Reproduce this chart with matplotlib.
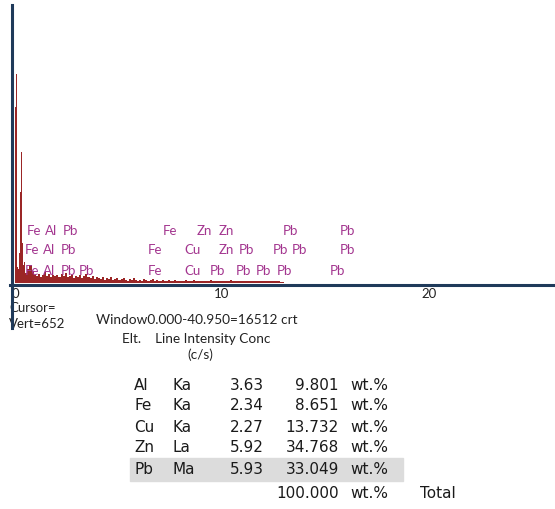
import matplotlib
matplotlib.use("Agg")
import matplotlib.pyplot as plt
from matplotlib.lines import Line2D
from matplotlib.patches import Rectangle
import numpy as np

W, H = 555, 509
KEV_PX = 20.7      # pixels per keV on the energy axis
X0_PX = 15.0       # pixel column of 0 keV
BASE_PX = 283.0    # pixel row of the spectrum baseline
TOP_PX = 5.0
VERT = 652         # vertical full scale (counts)

# fine channels (0.05 keV) covering 0 - 0.5 keV
fine_counts = [413, 490, 38, 33, 70, 213, 307, 94, 42, 49]
# coarse channels (0.1 keV) from 0.5 keV up to 13 keV
coarse_counts = [
    23, 33, 42, 28, 19,
    16, 21, 14, 19, 26, 16, 21, 14, 19, 16,
    19, 14, 21, 16, 23, 14, 16, 19, 12, 16,
    14, 19, 12, 16, 21, 14, 12, 16, 9, 14,
    12, 9, 14, 7, 12, 9, 14, 7, 9, 12,
    7, 9, 12, 7, 5, 9, 7, 12, 7, 5,
    7, 5, 9, 7, 5, 7, 9, 5, 7, 5,
    5, 7, 5, 5, 7, 5, 5, 7, 5, 5,
    5, 5, 7, 5, 5, 5, 7, 5, 5, 5,
    5, 5, 5, 5, 7, 5, 5, 5, 5, 5,
    5, 5, 5, 5, 7, 5, 5, 5, 5, 5,
    5, 5, 5, 5, 5, 5, 5, 5, 5, 5,
    5, 5, 5, 5, 5, 5, 5, 5, 2, 2,
]

# element markers, one list per row (label, keV)
row1 = [("Fe", 0.58), ("Al", 1.45), ("Pb", 2.32), ("Fe", 7.15), ("Zn", 8.79),
        ("Zn", 9.86), ("Pb", 12.95), ("Pb", 15.70)]
row2 = [("Fe", 0.48), ("Al", 1.35), ("Pb", 2.22), ("Fe", 6.43), ("Cu", 8.16),
        ("Zn", 9.86), ("Pb", 10.82), ("Pb", 12.46), ("Pb", 13.38), ("Pb", 15.70)]
row3 = [("Fe", 0.48), ("Al", 1.35), ("Pb", 2.22), ("Pb", 3.09), ("Fe", 6.43),
        ("Cu", 8.16), ("Pb", 9.42), ("Pb", 10.68), ("Pb", 11.64), ("Pb", 12.66),
        ("Pb", 15.22)]
row_levels = [123, 77, 29]

# quantification table
elements = ["Al", "Fe", "Cu", "Zn", "Pb"]
lines = ["Ka", "Ka", "Ka", "La", "Ma"]
intensity = [3.63, 2.34, 2.27, 5.92, 5.93]
conc = [9.801, 8.651, 13.732, 34.768, 33.049]
total = 100.000

navy = "#1f3a5a"
red = "#9b2626"
magenta = "#a3358f"
ink = "#222222"
plt.rcParams["font.family"] = ["Lato", "DejaVu Sans"]
table_font = dict(family=["DejaVu Sans"], fontsize=11, color="#1a1a1a", va="center")


def fx(px):
    return px / W


def fy(py):
    return 1 - py / H


fig = plt.figure(figsize=(W / 100, H / 100), dpi=100)
ax = fig.add_axes([0, fy(BASE_PX), 1, (BASE_PX - TOP_PX) / H])
ax.set_xlim(-X0_PX / KEV_PX, (W - X0_PX) / KEV_PX)
ax.set_ylim(0, VERT)
for s in ax.spines.values():
    s.set_visible(False)
ax.set_yticks([])

fine_x = np.arange(len(fine_counts)) * 0.05
coarse_x = 0.5 + np.arange(len(coarse_counts)) * 0.1
ax.bar(fine_x, fine_counts, width=0.05, align="edge", color=red, linewidth=0)
ax.bar(coarse_x, coarse_counts, width=0.1, align="edge", color=red, linewidth=0)

for row, lvl in zip([row1, row2, row3], row_levels):
    for name, e in row:
        ax.text(e, lvl, name, color=magenta, fontsize=9.5, ha="left", va="center")

ax.set_xticks([0, 10, 20])
ax.set_xticklabels(["0", "10", "20"])
ax.tick_params(axis="x", length=0, pad=3.5, labelsize=9.5, labelcolor=ink)

# axis lines
fig.add_artist(Line2D([fx(11.5), fx(11.5)], [fy(5), fy(328)], color=navy, lw=2.2, zorder=10))
fig.add_artist(Line2D([fx(10), fx(555)], [fy(284.5), fy(284.5)], color=navy, lw=2.2, zorder=10))

# status text
fig.text(fx(9), fy(308), "Cursor=", fontsize=9.5, color=ink, va="center")
fig.text(fx(9), fy(324), "Vert=%d" % VERT, fontsize=9.5, color=ink, va="center")
fig.text(fx(96), fy(320), "Window0.000-40.950=16512 crt", fontsize=9.8, color=ink, va="center")
fig.text(fx(122), fy(339), "Elt.    Line Intensity Conc", fontsize=9.8, color=ink, va="center")
fig.text(fx(187), fy(355), "(c/s)", fontsize=9.8, color=ink, va="center")

# table
row_y = [385, 406, 427, 448, 470]
fig.add_artist(Rectangle((fx(130), fy(481)), fx(403) - fx(130), fy(458) - fy(481),
                         color="#dcdcdc", zorder=0))
for el, ln, it, cc, y in zip(elements, lines, intensity, conc, row_y):
    fig.text(fx(134), fy(y), el, **table_font)
    fig.text(fx(173), fy(y), ln, **table_font)
    fig.text(fx(264), fy(y), "%.2f" % it, ha="right", **table_font)
    fig.text(fx(339), fy(y), "%.3f" % cc, ha="right", **table_font)
    fig.text(fx(350), fy(y), "wt.%", **table_font)
fig.text(fx(339), fy(494), "%.3f" % total, ha="right", **table_font)
fig.text(fx(350), fy(494), "wt.%", **table_font)
fig.text(fx(420), fy(494), "Total", **table_font)

fig.savefig("out.png", dpi=100)
